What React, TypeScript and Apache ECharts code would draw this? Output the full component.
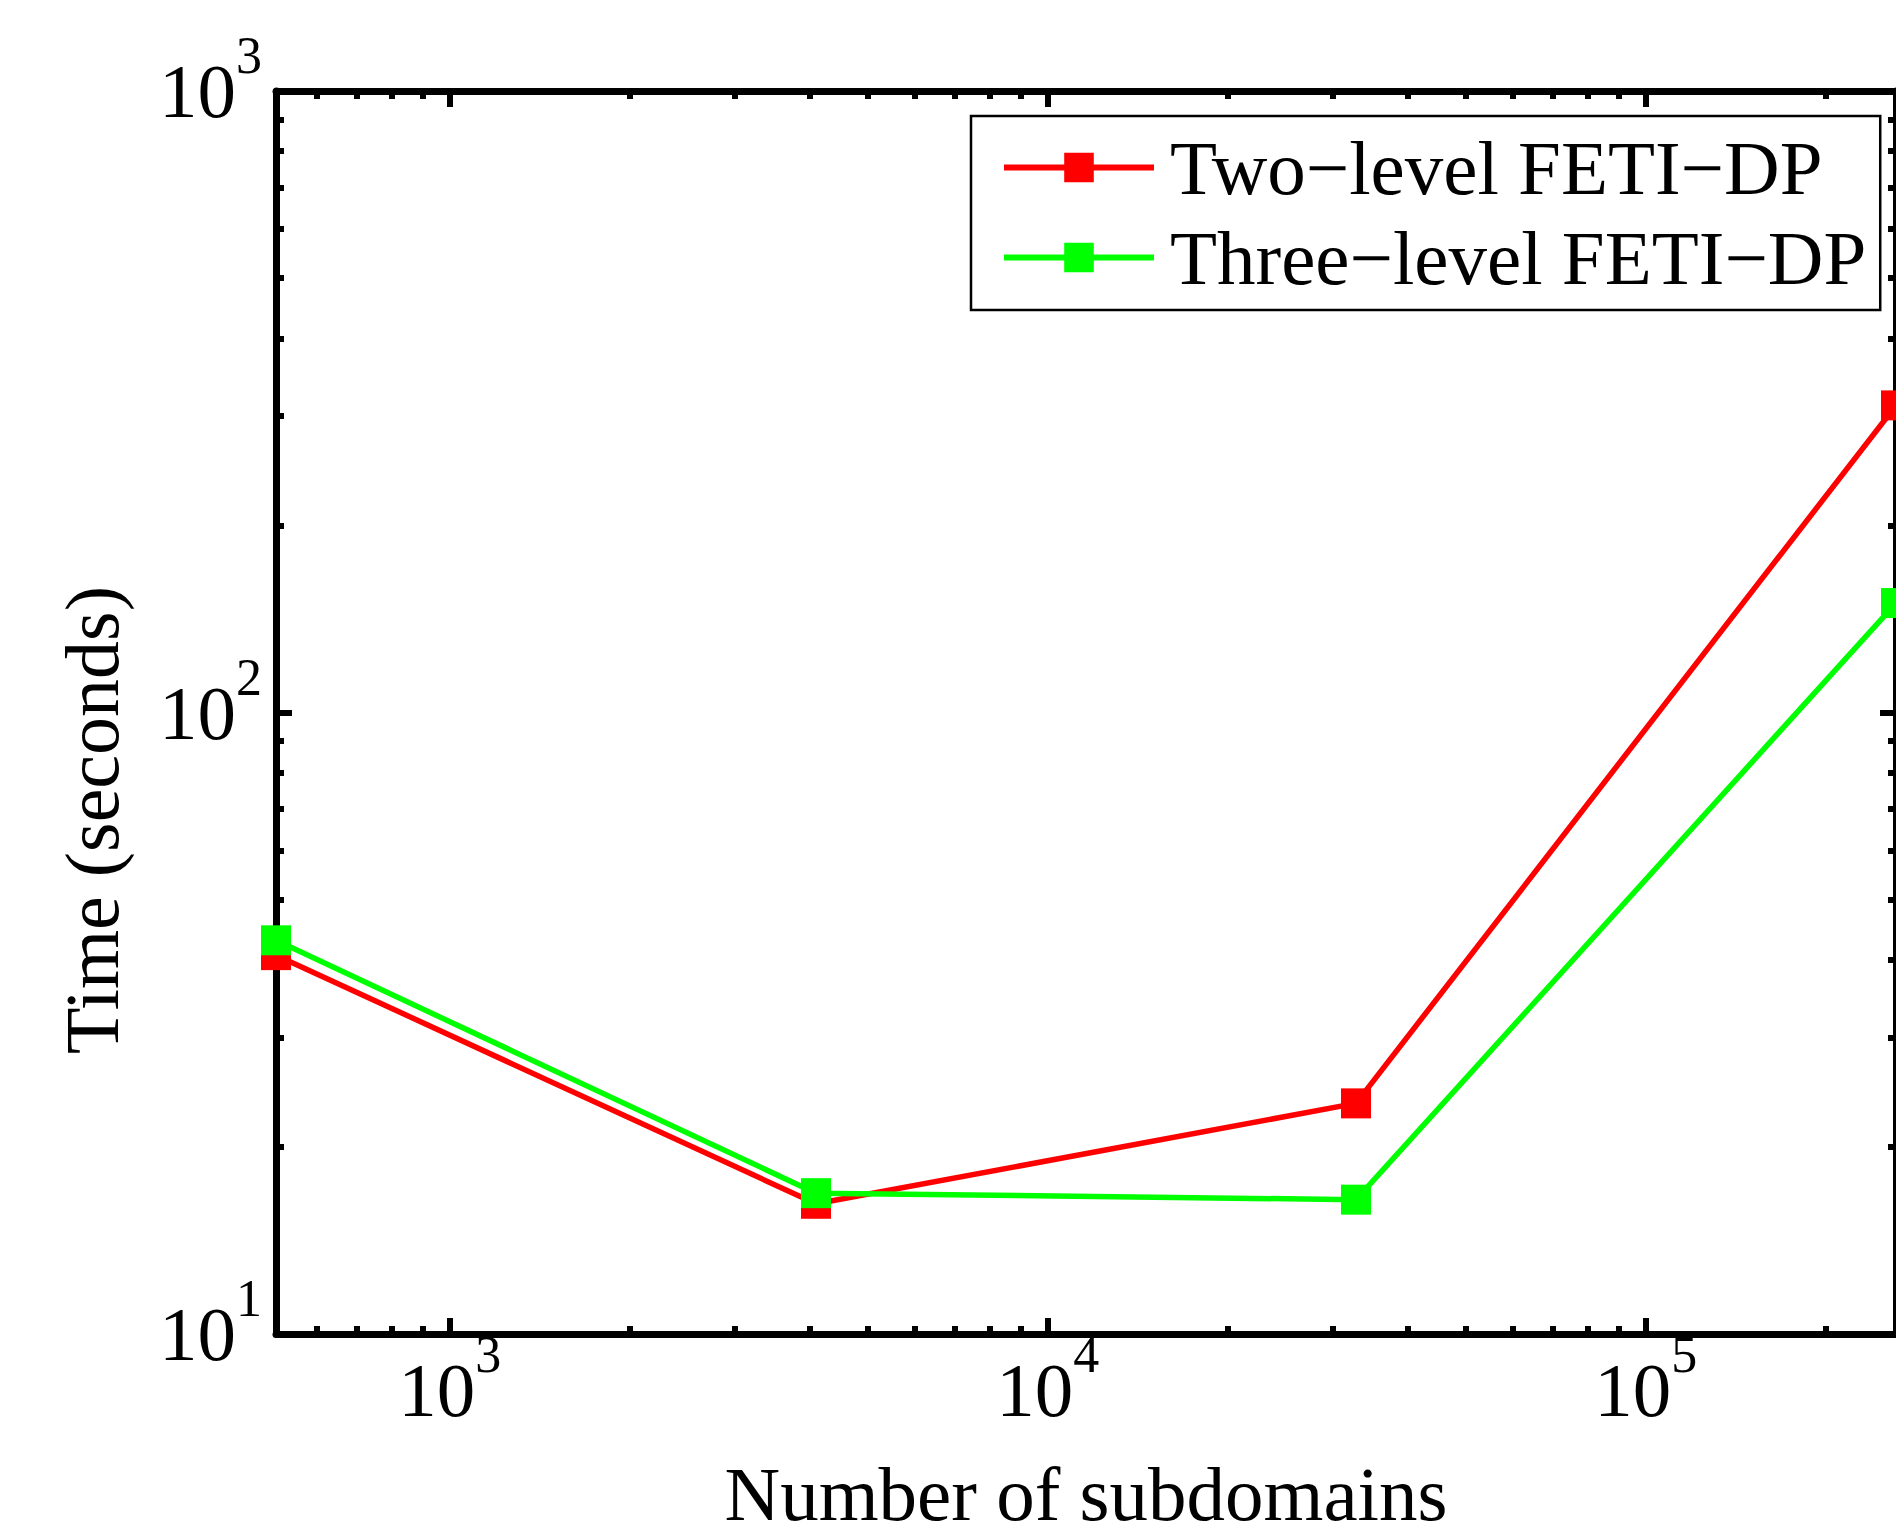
import React, { useEffect, useRef } from 'react';
import * as echarts from 'echarts';

// ---- data ----
const subdomains = [512, 4096, 32768, 262144];
const twoLevel = [40.7, 16.2, 23.5, 312];
const threeLevel = [43.0, 16.85, 16.45, 150];
const seriesNames = ['Two\u2212level FETI\u2212DP', 'Three\u2212level FETI\u2212DP'];
const seriesColors = ['#ff0000', '#00ff00'];

// ---- axes ----
const xMin = 512;
const xMax = 262144;
const yMin = 10;
const yMax = 1000;
const xMajorTicks = [1000, 10000, 100000];
const xMinorTicks = [
  600, 700, 800, 900,
  2000, 3000, 4000, 5000, 6000, 7000, 8000, 9000,
  20000, 30000, 40000, 50000, 60000, 70000, 80000, 90000,
  200000,
];
const yMajorTicks = [10, 100, 1000];
const yMinorTicks = [20, 30, 40, 50, 60, 70, 80, 90, 200, 300, 400, 500, 600, 700, 800, 900];
const xTitle = 'Number of subdomains';
const yTitle = 'Time (seconds)';

const FONT = '"Liberation Serif", "Times New Roman", Times, serif';

const supLabel = (v: number) => `{b|10}{s|${Math.round(Math.log10(v))}}`;
const labelRich = {
  b: { fontSize: 77, lineHeight: 77, fontFamily: FONT, color: '#000', padding: [23, 0, 23, 0] },
  s: { fontSize: 52, lineHeight: 52, fontFamily: FONT, color: '#000', padding: [0, 0, 71, 0] },
};

const lineStyle = { color: '#000', width: 7 };
const majorTickStyle = { color: '#000', width: 6 };
const minorTickStyle = { color: '#000', width: 6 };

function makeAxis(
  kind: 'x' | 'y',
  position: string,
  ticks: number[],
  len: number,
  withLine: boolean,
  labels: boolean,
  extra: any = {}
) {
  return {
    type: 'log',
    logBase: 10,
    min: kind === 'x' ? xMin : yMin,
    max: kind === 'x' ? xMax : yMax,
    position,
    gridIndex: 0,
    axisLine: { show: withLine, onZero: false, lineStyle },
    axisTick: {
      show: true,
      inside: true,
      length: len,
      customValues: ticks,
      lineStyle: len > 10 ? majorTickStyle : minorTickStyle,
    },
    axisLabel: labels
      ? {
          show: true,
          customValues: ticks,
          formatter: supLabel,
          rich: labelRich,
          margin: kind === 'x' ? 17 : 14,
        }
      : { show: false },
    splitLine: { show: false },
    minorTick: { show: false },
    minorSplitLine: { show: false },
    ...extra,
  };
}

export default function App() {
  const ref = useRef<HTMLDivElement>(null);

  useEffect(() => {
    if (!ref.current) return;
    const chart = echarts.init(ref.current, undefined, { renderer: 'svg' });

    const option: any = {
      animation: false,
      backgroundColor: '#ffffff',
      grid: {
        left: 276,
        right: 0,
        top: 91,
        bottom: 188,
        containLabel: false,
        outerBoundsMode: 'none',
      },
      xAxis: [
        makeAxis('x', 'bottom', xMajorTicks, 16, true, true, {
          name: xTitle,
          nameLocation: 'middle',
          nameGap: 123,
          nameTextStyle: { fontSize: 77, lineHeight: 60, fontFamily: FONT, color: '#000' },
        }),
        makeAxis('x', 'bottom', xMinorTicks, 8, false, false),
        makeAxis('x', 'top', xMajorTicks, 16, true, false),
        makeAxis('x', 'top', xMinorTicks, 8, false, false),
      ],
      yAxis: [
        makeAxis('y', 'left', yMajorTicks, 16, true, true),
        makeAxis('y', 'left', yMinorTicks, 8, false, false),
        makeAxis('y', 'right', yMajorTicks, 16, true, false),
        makeAxis('y', 'right', yMinorTicks, 8, false, false),
      ],
      legend: {
        orient: 'vertical',
        left: 971,
        top: 116,
        padding: [13, 14, 14, 30],
        itemWidth: 150,
        itemHeight: 37,
        itemGap: 13,
        borderColor: '#000',
        borderWidth: 2.5,
        backgroundColor: '#ffffff',
        lineStyle: { width: 6 },
        textStyle: {
          fontFamily: FONT,
          fontSize: 77,
          lineHeight: 77,
          color: '#000',
          padding: [0, 0, 0, 11],
        },
        data: seriesNames,
      },
      graphic: [
        {
          type: 'text',
          x: 92,
          y: 820,
          rotation: Math.PI / 2,
          style: {
            text: yTitle,
            fontSize: 76,
            fontFamily: FONT,
            fill: '#000',
            align: 'center',
            verticalAlign: 'middle',
          },
        },
      ],
      series: [twoLevel, threeLevel].map((vals, i) => ({
        name: seriesNames[i],
        type: 'line',
        xAxisIndex: 0,
        yAxisIndex: 0,
        data: subdomains.map((x, j) => [x, vals[j]]),
        symbol: 'rect',
        symbolSize: 30,
        clip: false,
        lineStyle: { color: seriesColors[i], width: 5.5 },
        itemStyle: { color: seriesColors[i] },
        z: 3 + i,
      })),
    };

    chart.setOption(option);
    return () => chart.dispose();
  }, []);

  return (
    <div
      ref={ref}
      style={{ position: 'fixed', left: 0, top: 0, width: 1896, height: 1522 }}
    />
  );
}
